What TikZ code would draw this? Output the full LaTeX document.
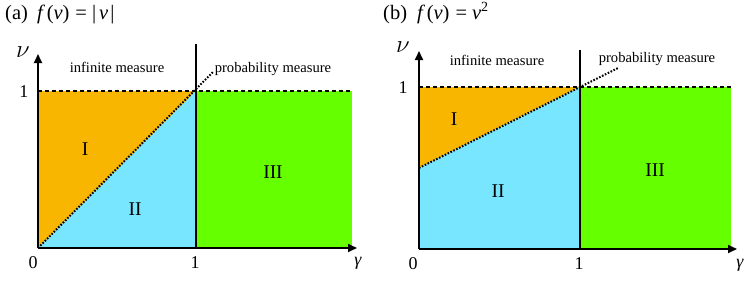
\documentclass[tikz,border=0pt]{standalone}
\usepackage{fontspec}
\setmainfont{Liberation Serif}
\usetikzlibrary{arrows.meta}
\definecolor{orng}{RGB}{249,182,0}
\definecolor{skyb}{RGB}{120,230,255}
\definecolor{lgrn}{RGB}{102,255,0}
\begin{document}
\begin{tikzpicture}[x=1pt,y=-1pt,
  axis/.style={line width=1.8pt,-{Triangle[length=9pt,width=8pt]}},
  bound/.style={line width=1.3pt},
  dashln/.style={line width=1.9pt,dash pattern=on 4pt off 3pt},
  dotln/.style={line width=2pt,dash pattern=on 1.6pt off 1.6pt},
  lbl/.style={font=\fontsize{14.6}{16}\selectfont,anchor=base,inner sep=0pt},
  ticklbl/.style={font=\fontsize{18}{20}\selectfont,anchor=base,inner sep=0pt},
  nulbl/.style={font=\fontsize{25}{28}\selectfont,anchor=base,inner sep=0pt},
  reglbl/.style={font=\fontsize{19.5}{22}\selectfont,anchor=base,inner sep=0pt},
  ttl/.style={font=\fontsize{20.5}{22}\selectfont,anchor=base west,inner sep=0pt}]
\useasboundingbox (0,0) rectangle (747,284);
% ---------------- panel (a)
\coordinate (aO) at (38,248);
\coordinate (aY) at (38,54);
\coordinate (aX) at (357,248);
\coordinate (aT) at (38,91);
\coordinate (aC) at (196,91);
\coordinate (aB) at (196,248);
\coordinate (aR) at (352,91);
\coordinate (aRB) at (352,248);
\coordinate (aV) at (196,44);
\coordinate (aD) at (213,72);
\fill[orng] (aT) -- (aC) -- (aO) -- cycle;
\fill[skyb] (aO) -- (aC) -- (aB) -- cycle;
\fill[lgrn] (aC) rectangle (aRB);
\draw[dotln] (aO) -- (aD);
\draw[dashln] (aT) -- (aR);
\draw[bound] (aV) -- (aB);
\draw[axis] (aO) -- (aY);
\draw[axis] (aO) -- (aX);
\node[ttl] (at1) at (5,19) {(a)};
\node[ttl] (at2) at (37,19) {\textit{f}\hspace{1.5pt}(\textit{v})\hspace{6pt}=\hspace{5pt}|\hspace{3pt}\textit{v}\hspace{2pt}|};
\node[nulbl] (anu) at (23,57) {$\nu$};
\node[ticklbl] (a1y) at (24,97) {1};
\node[ticklbl] (a0) at (33,268) {0};
\node[ticklbl] (a1x) at (195,268) {1};
\node[ticklbl] (agam) at (358,265) {\textit{γ}};
\node[lbl] (ainf) at (117,72) {infinite measure};
\node[lbl] (aprob) at (273,72) {probability measure};
\node[reglbl] (aI) at (85,155) {I};
\node[reglbl] (aII) at (135,215) {II};
\node[reglbl] (aIII) at (273,178) {III};
% ---------------- panel (b)
\coordinate (bO) at (419,249);
\coordinate (bY) at (419,51);
\coordinate (bX) at (737,249);
\coordinate (bT) at (419,87);
\coordinate (bC) at (580,87);
\coordinate (bB) at (580,249);
\coordinate (bR) at (731,87);
\coordinate (bRB) at (731,249);
\coordinate (bV) at (580,50);
\coordinate (bM) at (419,168);
\coordinate (bD) at (618,68);
\fill[orng] (bT) -- (bC) -- (bM) -- cycle;
\fill[skyb] (bM) -- (bC) -- (bB) -- (bO) -- cycle;
\fill[lgrn] (bC) rectangle (bRB);
\draw[dotln] (bM) -- (bD);
\draw[dashln] (bT) -- (bR);
\draw[bound] (bV) -- (bB);
\draw[axis] (bO) -- (bY);
\draw[axis] (bO) -- (bX);
\node[ttl] (bt1) at (383,19) {(b)};
\node[ttl] (bt2) at (417,19) {\textit{f}\hspace{1.5pt}(\textit{v})\hspace{6pt}=\hspace{5pt}\textit{v}\raisebox{8pt}{\fontsize{14}{16}\selectfont 2}};
\node[nulbl] (bnu) at (403,52) {$\nu$};
\node[ticklbl] (b1y) at (403,93) {1};
\node[ticklbl] (b0) at (413,269) {0};
\node[ticklbl] (b1x) at (579,269) {1};
\node[ticklbl] (bgam) at (740,267) {\textit{γ}};
\node[lbl] (binf) at (497,65) {infinite measure};
\node[lbl] (bprob) at (657,62) {probability measure};
\node[reglbl] (bI) at (454,125) {I};
\node[reglbl] (bII) at (498,197) {II};
\node[reglbl] (bIII) at (655,176) {III};
\end{tikzpicture}
\end{document}
